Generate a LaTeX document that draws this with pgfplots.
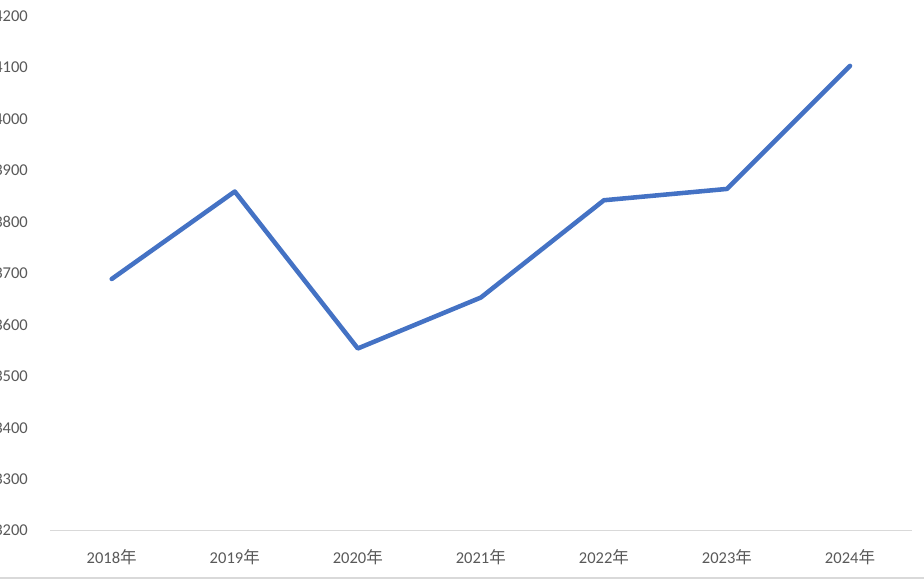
\documentclass[border=0pt]{standalone}
\usepackage{pgfplots}
\pgfplotsset{compat=1.18}
\usepackage{fontspec}
\setmainfont{Carlito}
\newfontfamily\cjk{Noto Sans CJK SC}
\definecolor{linecol}{RGB}{68,114,196}
\definecolor{axcol}{RGB}{217,217,217}
\definecolor{txtcol}{RGB}{89,89,89}
\begin{document}
\begin{tikzpicture}
\begin{axis}[
  at={(0,0)}, anchor=south west,
  scale only axis,
  width=646pt, height=386pt,
  xmin=-0.5, xmax=6.5,
  ymin=3200, ymax=4200,
  ytick={3200,3300,...,4200},
  xtick={0,1,2,3,4,5,6},
  xticklabels={2018{\cjk 年},2019{\cjk 年},2020{\cjk 年},2021{\cjk 年},2022{\cjk 年},2023{\cjk 年},2024{\cjk 年}},
  axis x line*=bottom,
  axis y line*=left,
  x axis line style={draw=axcol, line width=0.9pt, -},
  y axis line style={draw=none, -},
  major tick length=0pt,
  tick style={draw=none},
  /pgf/number format/assume math mode=true,
  /pgf/number format/1000 sep={},
  every tick label/.append style={font=\fontsize{12.4}{14}\selectfont, text=txtcol},
  yticklabel style={anchor=east, inner sep=0pt, xshift=-16.6pt},
  xticklabel style={anchor=center, inner sep=0pt, yshift=-20.2pt},
  clip=false,
]
\addplot[color=linecol, line width=3.4pt, line join=round, line cap=round] coordinates {
  (0,3689) (1,3859) (2,3554) (3,3653) (4,3842) (5,3864) (6,4103)
};
\end{axis}
\draw[axcol, line width=1.5pt] (-40pt,-35.7pt) -- (660pt,-35.7pt);
\pgfresetboundingbox
\useasboundingbox (-37.65pt,-38.5pt) rectangle (655.35pt,398pt);
\end{tikzpicture}
\end{document}
